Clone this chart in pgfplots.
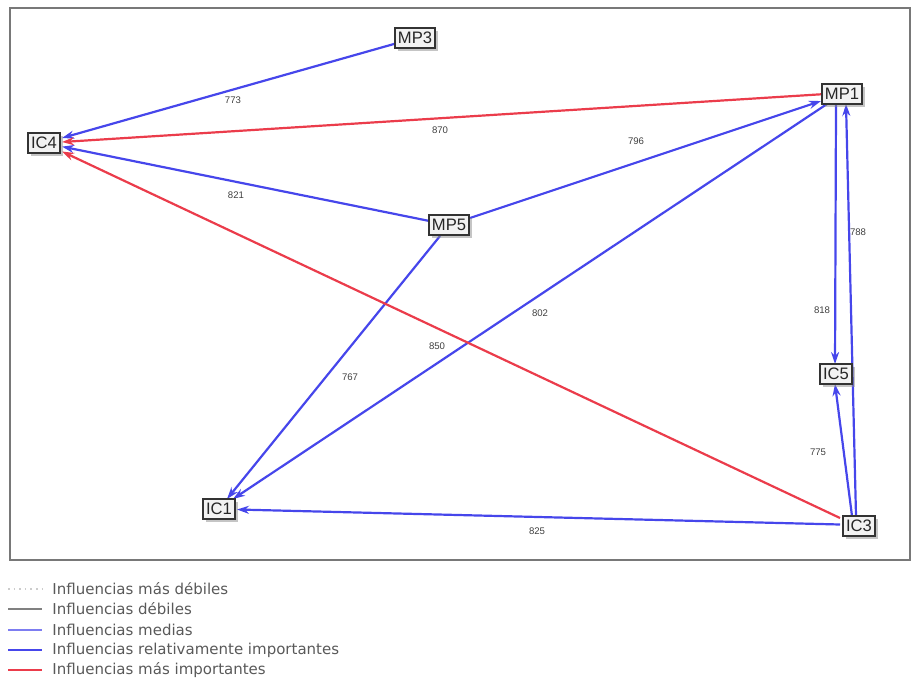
\documentclass[border=0pt]{standalone}
\usepackage{pgfplots}
\pgfplotsset{compat=1.18}
\usepackage{fontspec}
\setmainfont{Liberation Sans}
\newfontfamily\legendfont{DejaVu Sans}
\usetikzlibrary{arrows.meta,shadows}
\definecolor{edgeblue}{RGB}{70,70,235}
\definecolor{edgered}{RGB}{235,60,75}
\definecolor{framegray}{RGB}{120,120,120}

\pgfplotstableread{
x y label
415 38 MP3
44 143 IC4
842 94 MP1
449 225 MP5
836 374 IC5
219 509 IC1
859 526 IC3
}\nodestable

\begin{document}
\begin{tikzpicture}
\begin{axis}[
    scale only axis, width=450pt, height=276pt,
    xmin=10, xmax=910, ymin=8, ymax=560, y dir=reverse,
    axis line style={draw=framegray, line width=1.1pt},
    ticks=none, clip=false,
    edge/.style={line width=1.1pt, -{Stealth[length=6pt,width=4pt]}},
]
% page size
\path (axis cs:0,0) rectangle (axis cs:913,695);

% edges
\addplot[edge, edgeblue] coordinates {(395,43.7) (62,138)};      % MP3 -> IC4
\addplot[edge, edgered]  coordinates {(821,94.3) (62,142)};       % MP1 -> IC4
\addplot[edge, edgeblue] coordinates {(428,220.7) (62,146.6)};    % MP5 -> IC4
\addplot[edge, edgeblue] coordinates {(470,218) (821,101)};       % MP5 -> MP1
\addplot[edge, edgeblue] coordinates {(856,516) (846,104)};       % IC3 -> MP1
\addplot[edge, edgeblue] coordinates {(836,104) (835,364)};       % MP1 -> IC5
\addplot[edge, edgeblue] coordinates {(852,516) (835,384)};       % IC3 -> IC5
\addplot[edge, edgeblue] coordinates {(827,104) (233,499)};       % MP1 -> IC1
\addplot[edge, edgeblue] coordinates {(440,236) (227,499)};       % MP5 -> IC1
\addplot[edge, edgered]  coordinates {(840,518) (62,151.5)};      % IC3 -> IC4
\addplot[edge, edgeblue] coordinates {(840,524.5) (237,509.5)};   % IC3 -> IC1

% edge values
\begin{scope}[font=\fontsize{4.8}{5}\selectfont, text=black!75]
\node at (axis cs:233,100) {773};
\node at (axis cs:440,130) {870};
\node at (axis cs:236,195) {821};
\node at (axis cs:636,141) {796};
\node at (axis cs:858,232) {788};
\node at (axis cs:822,310) {818};
\node at (axis cs:818,452) {775};
\node at (axis cs:540,313) {802};
\node at (axis cs:437,346) {850};
\node at (axis cs:350,377) {767};
\node at (axis cs:537,531) {825};
\end{scope}

% variable boxes
\addplot[draw=none, mark=none, nodes near coords, point meta=explicit symbolic,
    every node near coord/.append style={anchor=center, draw=black!80, line width=0.8pt,
      fill=gray!10, text=black!85, font=\fontsize{8.3}{9}\selectfont,
      inner xsep=1.6pt, inner ysep=1.2pt, minimum height=10pt,
      drop shadow={shadow xshift=1.4pt, shadow yshift=-1.4pt, fill=black!45}}]
  table[x=x, y=y, meta=label] {\nodestable};

% legend
\begin{scope}[font=\legendfont\fontsize{7.5}{8}\selectfont, text=black!65]
\draw[gray!40, dotted, line width=0.8pt] (axis cs:8,589) -- (axis cs:42,589);
\node[anchor=west, inner sep=2pt] at (axis cs:48,589) {Influencias más débiles};
\draw[gray, line width=0.6pt] (axis cs:8,609) -- (axis cs:42,609);
\node[anchor=west, inner sep=2pt] at (axis cs:48,609) {Influencias débiles};
\draw[edgeblue!70, line width=0.6pt] (axis cs:8,630) -- (axis cs:42,630);
\node[anchor=west, inner sep=2pt] at (axis cs:48,630) {Influencias medias};
\draw[edgeblue, line width=1.1pt] (axis cs:8,650) -- (axis cs:42,650);
\node[anchor=west, inner sep=2pt] at (axis cs:48,650) {Influencias relativamente importantes};
\draw[edgered, line width=1.1pt] (axis cs:8,670) -- (axis cs:42,670);
\node[anchor=west, inner sep=2pt] at (axis cs:48,670) {Influencias más importantes};
\end{scope}
\end{axis}
\end{tikzpicture}
\end{document}
